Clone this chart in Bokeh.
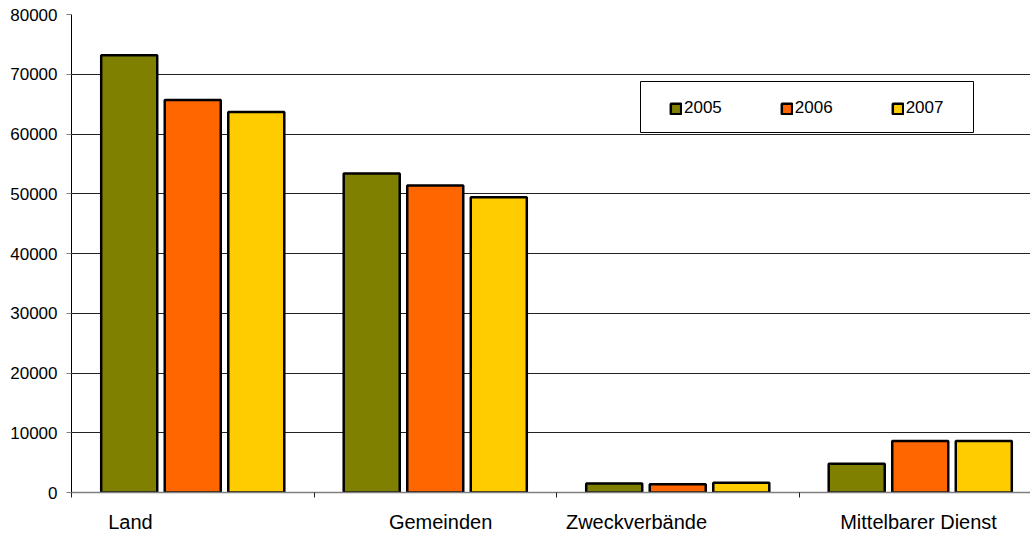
from bokeh.plotting import figure
from bokeh.models import Range1d, FixedTicker, Legend, LegendItem, ColumnDataSource
from bokeh.embed import file_html
from bokeh.resources import INLINE

categories = ["Land", "Gemeinden", "Zweckverbände", "Mittelbarer Dienst"]
years = ["2005", "2006", "2007"]
v2005 = [73200, 53400, 1500, 4800]
v2006 = [65700, 51400, 1400, 8600]
v2007 = [63700, 49400, 1650, 8600]
colors = ["#808000", "#FF6600", "#FFCC00"]
yticks = [0, 10000, 20000, 30000, 40000, 50000, 60000, 70000, 80000]
# horizontal label anchors (layout), category index based
label_shift = [-0.257, 0.022, -0.170, -0.007]

FONT = "Liberation Sans"
PX_PER_UNIT_X = 242.5
PX_PER_UNIT_Y = 478 / 80000

p = figure(width=1030, height=536, output_backend="svg", toolbar_location=None,
           x_range=Range1d(0, 959 / PX_PER_UNIT_X), y_range=Range1d(0, 80000),
           min_border_left=71, min_border_right=0, min_border_top=14, min_border_bottom=44)
p.outline_line_color = None
p.background_fill_color = "white"

offsets = [-0.262, 0.0, 0.262]
series = [v2005, v2006, v2007]
renderers = []
for k, (vals, col) in enumerate(zip(series, colors)):
    xs = [i + 0.5 + offsets[k] for i in range(len(categories))]
    src = ColumnDataSource(dict(x=xs, top=vals))
    r = p.vbar(x="x", top="top", bottom=0, width=0.231, source=src,
               fill_color=col, line_color="black", line_width=2.5)
    renderers.append(r)

# legend frame (drawn as a box behind the legend)
p.quad(left=(640 - 71) / PX_PER_UNIT_X, right=(973 - 71) / PX_PER_UNIT_X,
       top=(492 - 81) / PX_PER_UNIT_Y, bottom=(492 - 132) / PX_PER_UNIT_Y,
       fill_color="white", line_color="black", line_width=1)

legend = Legend(items=[LegendItem(label=y, renderers=[r]) for y, r in zip(years, renderers)],
                orientation="horizontal", location=(598, 374),
                glyph_width=13, glyph_height=13, label_standoff=2, spacing=58,
                padding=0, margin=0, border_line_color=None, background_fill_alpha=0,
                label_text_font=FONT, label_text_font_size="17px", label_text_color="black",
                label_height=13)
p.add_layout(legend)

# y axis
p.yaxis.ticker = FixedTicker(ticks=yticks)
p.ygrid.ticker = FixedTicker(ticks=yticks)
p.ygrid.grid_line_color = "#222222"
p.ygrid.grid_line_width = 1
p.xgrid.visible = False
p.yaxis.axis_line_color = "black"
p.yaxis.major_tick_out = 5
p.yaxis.major_tick_in = 0
p.yaxis.major_tick_line_color = "#808080"
p.yaxis.minor_tick_line_color = None
p.yaxis.major_label_standoff = 9
p.yaxis.major_label_text_font = FONT
p.yaxis.major_label_text_font_size = "17px"
p.yaxis.major_label_text_color = "black"

# x axis
label_pos = [i + 0.5 + s for i, s in enumerate(label_shift)]
p.xaxis.ticker = FixedTicker(ticks=label_pos, minor_ticks=[0, 1, 2, 3])
p.xaxis.major_label_overrides = {pos: name for pos, name in zip(label_pos, categories)}
p.xaxis.major_tick_line_color = None
p.xaxis.major_tick_out = 0
p.xaxis.major_tick_in = 0
p.xaxis.minor_tick_out = 5
p.xaxis.minor_tick_in = 0
p.xaxis.minor_tick_line_color = "#222222"
p.xaxis.axis_line_color = "#808080"
p.xaxis.axis_line_width = 1.5
p.xaxis.major_label_standoff = 13
p.xaxis.major_label_text_font = FONT
p.xaxis.major_label_text_font_size = "20px"
p.xaxis.major_label_text_color = "black"

open("out.html", "w").write(file_html(p, INLINE))
